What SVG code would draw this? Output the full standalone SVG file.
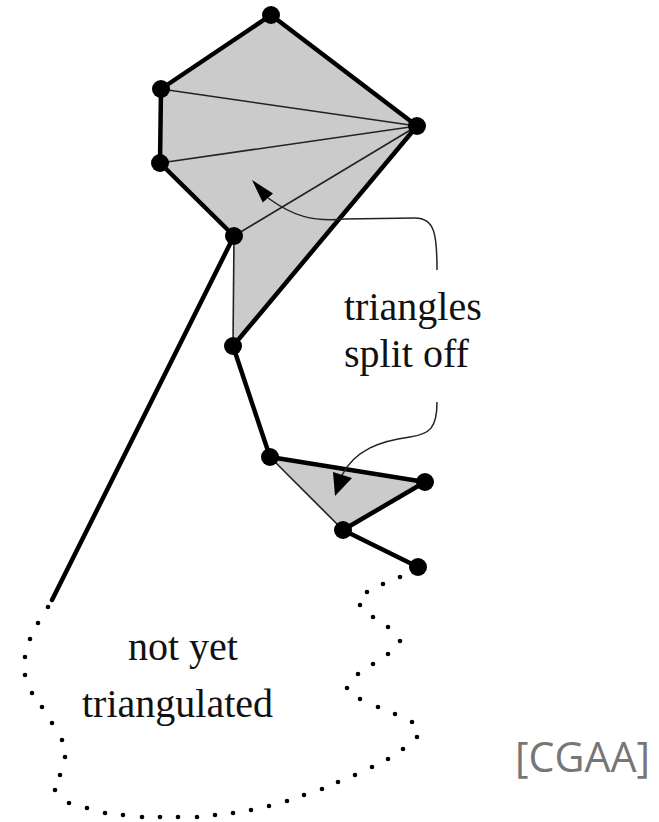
<svg xmlns="http://www.w3.org/2000/svg" width="659" height="822" viewBox="0 0 659 822">
<style>
.fill{fill:#cbcbcb;stroke:none}
.thick{stroke:#000;stroke-width:4.5;fill:none;stroke-linecap:round;stroke-linejoin:round}
.thin{stroke:#222;stroke-width:1.6;fill:none}
.curve{stroke:#222;stroke-width:1.5;fill:none}
.head{fill:#000}
.dot{fill:#000}
.v{fill:#000}
.lbl{font-family:"Liberation Serif","Times New Roman",serif;font-size:40px;fill:#111}
.cite{font-family:"Open Sans","Liberation Sans",sans-serif;font-size:42px;fill:#767676}
</style>
<g id="regions">
<polygon class="fill" points="271,15 417,126 233,346 234,236 160,163 161,89"/>
<polygon class="fill" points="270,457 425,482 343,530"/>
</g>
<g id="connectors">
<line class="thin" x1="161" y1="89" x2="417" y2="126"/>
<line class="thin" x1="160" y1="163" x2="417" y2="126"/>
<line class="thin" x1="234" y1="236" x2="417" y2="126"/>
<line class="thin" x1="234" y1="236" x2="233" y2="346"/>
<line class="thin" x1="270" y1="457" x2="343" y2="530"/>
<polyline class="thick" points="234,236 160,163 161,89 271,15 417,126 233,346 270,457 425,482 343,530 418,567"/>
<line class="thick" x1="234" y1="236" x2="52" y2="600"/>
<path class="curve" d="M437,270 C437,235 435,218 415,218 L345,219 C312,222 293,216 268,198"/>
<polygon class="head" points="252,180 273,193.4 262.8,202.6"/>
<path class="curve" d="M437,402 C437,428 430,434 410,437 C380,441 355,450 342,475"/>
<polygon class="head" points="335,496 333,472 352,478"/>
<g id="dotted">
<circle class="dot" cx="48" cy="607" r="2.3"/><circle class="dot" cx="38" cy="623" r="2.3"/><circle class="dot" cx="30" cy="639" r="2.3"/><circle class="dot" cx="25" cy="657" r="2.3"/><circle class="dot" cx="25" cy="675" r="2.3"/><circle class="dot" cx="32" cy="693" r="2.3"/><circle class="dot" cx="42" cy="707" r="2.3"/><circle class="dot" cx="52" cy="723" r="2.3"/><circle class="dot" cx="62" cy="740" r="2.3"/><circle class="dot" cx="65" cy="757" r="2.3"/><circle class="dot" cx="60" cy="775" r="2.3"/><circle class="dot" cx="55" cy="790" r="2.3"/><circle class="dot" cx="69" cy="803" r="2.3"/><circle class="dot" cx="87" cy="808" r="2.3"/><circle class="dot" cx="105" cy="813" r="2.3"/><circle class="dot" cx="123" cy="815" r="2.3"/><circle class="dot" cx="142" cy="817" r="2.3"/><circle class="dot" cx="160" cy="817" r="2.3"/><circle class="dot" cx="178" cy="817" r="2.3"/><circle class="dot" cx="197" cy="817" r="2.3"/><circle class="dot" cx="215" cy="815" r="2.3"/><circle class="dot" cx="233" cy="813" r="2.3"/><circle class="dot" cx="251" cy="810" r="2.3"/><circle class="dot" cx="269" cy="806" r="2.3"/><circle class="dot" cx="287" cy="801" r="2.3"/><circle class="dot" cx="304" cy="795" r="2.3"/><circle class="dot" cx="322" cy="789" r="2.3"/><circle class="dot" cx="338" cy="782" r="2.3"/><circle class="dot" cx="355" cy="775" r="2.3"/><circle class="dot" cx="372" cy="767" r="2.3"/><circle class="dot" cx="388" cy="759" r="2.3"/><circle class="dot" cx="403" cy="749" r="2.3"/><circle class="dot" cx="417" cy="737" r="2.3"/><circle class="dot" cx="412" cy="722" r="2.3"/><circle class="dot" cx="395" cy="714" r="2.3"/><circle class="dot" cx="378" cy="707" r="2.3"/><circle class="dot" cx="360" cy="699" r="2.3"/><circle class="dot" cx="347" cy="688" r="2.3"/><circle class="dot" cx="358" cy="674" r="2.3"/><circle class="dot" cx="373" cy="664" r="2.3"/><circle class="dot" cx="388" cy="654" r="2.3"/><circle class="dot" cx="400" cy="641" r="2.3"/><circle class="dot" cx="388" cy="627" r="2.3"/><circle class="dot" cx="373" cy="617" r="2.3"/><circle class="dot" cx="360" cy="605" r="2.3"/><circle class="dot" cx="367" cy="592" r="2.3"/><circle class="dot" cx="383" cy="584" r="2.3"/><circle class="dot" cx="400" cy="577" r="2.3"/>
</g>
</g>
<g id="vA"><circle class="v" cx="271" cy="15" r="9"/></g>
<g id="vB"><circle class="v" cx="161" cy="89" r="9"/></g>
<g id="vC"><circle class="v" cx="160" cy="163" r="9"/></g>
<g id="vD"><circle class="v" cx="234" cy="236" r="9"/></g>
<g id="vE"><circle class="v" cx="417" cy="126" r="9"/></g>
<g id="vF"><circle class="v" cx="233" cy="346" r="9"/></g>
<g id="vG"><circle class="v" cx="270" cy="457" r="9"/></g>
<g id="vH"><circle class="v" cx="425" cy="482" r="9"/></g>
<g id="vI"><circle class="v" cx="343" cy="530" r="9"/></g>
<g id="vJ"><circle class="v" cx="418" cy="567" r="9"/></g>
<g id="label-split">
<text class="lbl" x="344" y="320">triangles</text>
<text class="lbl" x="344" y="367">split off</text>
</g>
<g id="label-not">
<text class="lbl" x="128" y="660">not yet</text>
<text class="lbl" x="82" y="717">triangulated</text>
</g>
<g id="cite">
<text class="cite" x="515" y="772" textLength="135" lengthAdjust="spacingAndGlyphs">[CGAA]</text>
</g>
</svg>
